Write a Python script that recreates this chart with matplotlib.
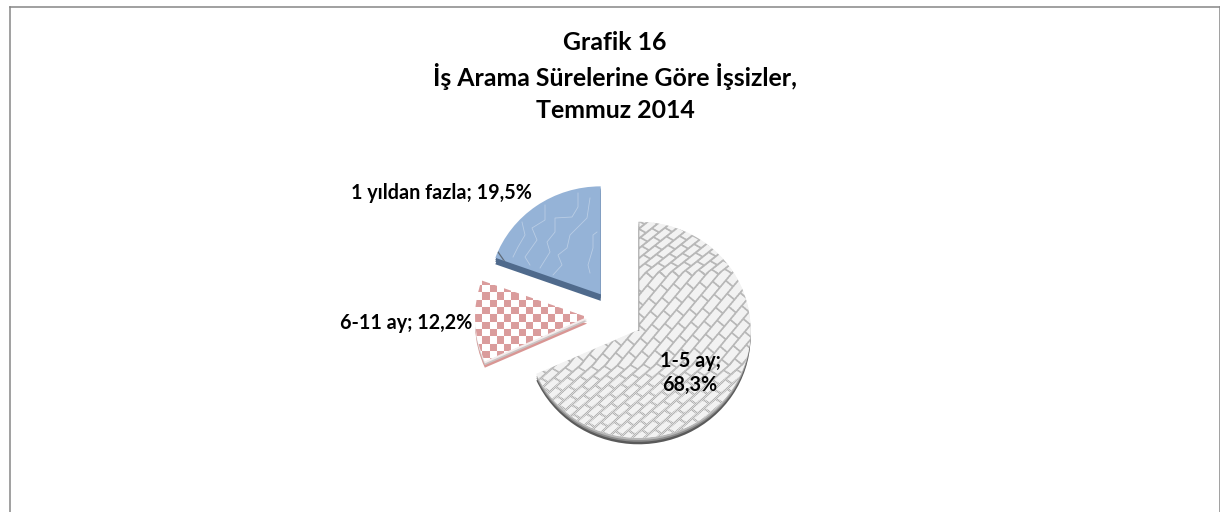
import numpy as np
import matplotlib
matplotlib.use("Agg")
import matplotlib.pyplot as plt
from matplotlib.lines import Line2D

categories = ["1-5 ay", "6-11 ay", "1 yıldan fazla"]
shares = [68.3, 12.2, 19.5]
title_lines = ["Grafik 16", "İş Arama Sürelerine Göre İşsizler,", "Temmuz 2014"]

W, H = 1220, 512
CX, CY, RX, RY = 616.5, 316.0, 112.0, 108.0
explode = [0.235, 0.263, 0.245]
FONT = "Lato"

fig = plt.figure(figsize=(W / 100, H / 100), dpi=100, facecolor="white")
ax = fig.add_axes([0, 0, 1, 1])


def dx(px):
    return (np.asarray(px, float) - CX) / RX


def dy(py):
    return (CY - np.asarray(py, float)) / RY


def draw_pie(colors, depth, z):
    wedges, _ = ax.pie(shares, explode=explode, colors=colors, startangle=90,
                       counterclock=False, center=(0, -depth / RY))
    for w in wedges:
        w.set_zorder(z)
        w.set_linewidth(0)
    return wedges


# extruded rim, back to front
draw_pie(["#5A5A5A", "#D99694", "#4F6A8C"], 6.5, 1)
draw_pie(["#8C8C8C", "#C9C4C4", "#4F6A8C"], 4.0, 1.1)
draw_pie(["#B8B8B8", "#F4ECEC", "#4F6A8C"], 2.2, 1.2)
wedges = draw_pie(["#F2F2F2", "#FFFFFF", "#95B3D7"], 0, 2)


def brick_texture(x0, x1, y0, y1, ss=3):
    xs = np.arange(x0, x1, 1 / ss) + 0.5 / ss
    ys = np.arange(y0, y1, 1 / ss) + 0.5 / ss
    X, Y = np.meshgrid(xs, ys)
    Yw = np.interp(Y, [220, 272, 365, 450], [-78, 0, 93, 212])
    mort = np.interp(Y, [220, 268, 276, 360, 385, 450], [2.4, 2.4, 1.8, 1.8, 3.0, 3.0])
    t = np.deg2rad(50)
    a = X * np.cos(t) - Yw * np.sin(t)
    b = X * np.sin(t) + Yw * np.cos(t)
    L, h = 18.0, 9.5
    row = np.floor(b / h)
    a2 = a + 0.5 * L * (row % 2)
    fb = (b / h - row) * h
    fa = (a2 / L - np.floor(a2 / L)) * L
    is_m = (fb < mort) | (fa < mort)
    px = np.floor(X).astype(int) + np.floor(Y).astype(int)
    grain = np.where(px % 2 == 0, 0.70, 0.86)
    lower = np.clip((Y - 365) / 20, 0, 1)
    mcol = 0.72 * (1 - lower) + grain * lower
    img = np.where(is_m, mcol, 0.95)
    img[(np.abs(X - 638.5) < 0.7) & (Y < 331)] = 0.62
    n_y, n_x = img.shape[0] // ss, img.shape[1] // ss
    img = img.reshape(n_y, ss, n_x, ss).mean(axis=(1, 3))
    return img


def checker_texture(x0, x1, y0, y1):
    xs = np.arange(x0, x1)
    ys = np.arange(y0, y1)
    X, Y = np.meshgrid(xs, ys)
    c = ((X // 7.3).astype(int) + (Y // 7.3).astype(int)) % 2
    rgb = np.ones(X.shape + (3,))
    rgb[c == 0] = matplotlib.colors.to_rgb("#DB9C9C")
    return rgb


b1 = (530, 760, 220, 450)
im = ax.imshow(brick_texture(*b1), cmap="gray", vmin=0, vmax=1, aspect="auto",
               extent=(dx(b1[0]), dx(b1[1]), dy(b1[3]), dy(b1[2])),
               origin="upper", interpolation="bilinear", zorder=3)
im.set_clip_path(wedges[0])

b2 = (470, 595, 275, 370)
im = ax.imshow(checker_texture(*b2), aspect="auto",
               extent=(dx(b2[0]), dx(b2[1]), dy(b2[3]), dy(b2[2])),
               origin="upper", interpolation="bilinear", zorder=3)
im.set_clip_path(wedges[1])

# faint relief traces on the blue slice (screen pixels)
relief = [
    [(522, 222), (525, 235), (518, 247), (513, 257)],
    [(545, 205), (545, 220), (532, 228), (537, 240), (525, 257), (530, 265)],
    [(578, 193), (578, 207), (572, 217), (555, 218), (555, 232), (547, 242), (550, 252), (540, 268)],
    [(590, 198), (587, 218), (570, 235), (567, 248), (558, 255), (562, 265), (553, 275)],
    [(597, 232), (593, 235), (593, 248), (588, 265), (590, 273)],
]
for path in relief:
    p = np.array(path)
    ln, = ax.plot(dx(p[:, 0]), dy(p[:, 1]), color="#C9D8EA", lw=0.6, alpha=0.7, zorder=3)
    ln.set_clip_path(wedges[2])
tip, = ax.plot(dx([498, 505]), dy([252, 262]), color="#5F6B78", lw=0.9, zorder=3)
tip.set_clip_path(wedges[2])

ax.set_xlim(dx(0), dx(W))
ax.set_ylim(dy(H), dy(0))
ax.set_axis_off()


def fx(px):
    return px / W


def fy(py):
    return 1 - py / H


# frame, open at the bottom
for xs, ys in [((10, 10), (6.5, 512)), ((10, 1219.5), (6.5, 6.5)), ((1219.5, 1219.5), (6.5, 512))]:
    fig.add_artist(Line2D([fx(x) for x in xs], [fy(y) for y in ys], color="#868686", lw=1.1))

for line, y in zip(title_lines, [43, 76, 110]):
    fig.text(fx(615), fy(y), line, ha="center", va="center", family=FONT,
             fontweight="bold", fontsize=17.9, color="black")


def label(i):
    return f"{categories[i]}; {shares[i]:.1f}%".replace(".", ",")


LABEL_SIZE = 14.2
fig.text(fx(532), fy(193), label(2), ha="right", va="center", family=FONT,
         fontweight="bold", fontsize=LABEL_SIZE, color="black")
fig.text(fx(472), fy(323), label(1), ha="right", va="center", family=FONT,
         fontweight="bold", fontsize=LABEL_SIZE, color="black")
first, second = label(0).split(" ", 2)[0:2], label(0).split(" ", 2)[2]
fig.text(fx(690), fy(361), " ".join(first), ha="center", va="center", family=FONT,
         fontweight="bold", fontsize=LABEL_SIZE, color="black")
fig.text(fx(690), fy(385), second, ha="center", va="center", family=FONT,
         fontweight="bold", fontsize=LABEL_SIZE, color="black")

fig.savefig("out.png", dpi=100, facecolor="white")
